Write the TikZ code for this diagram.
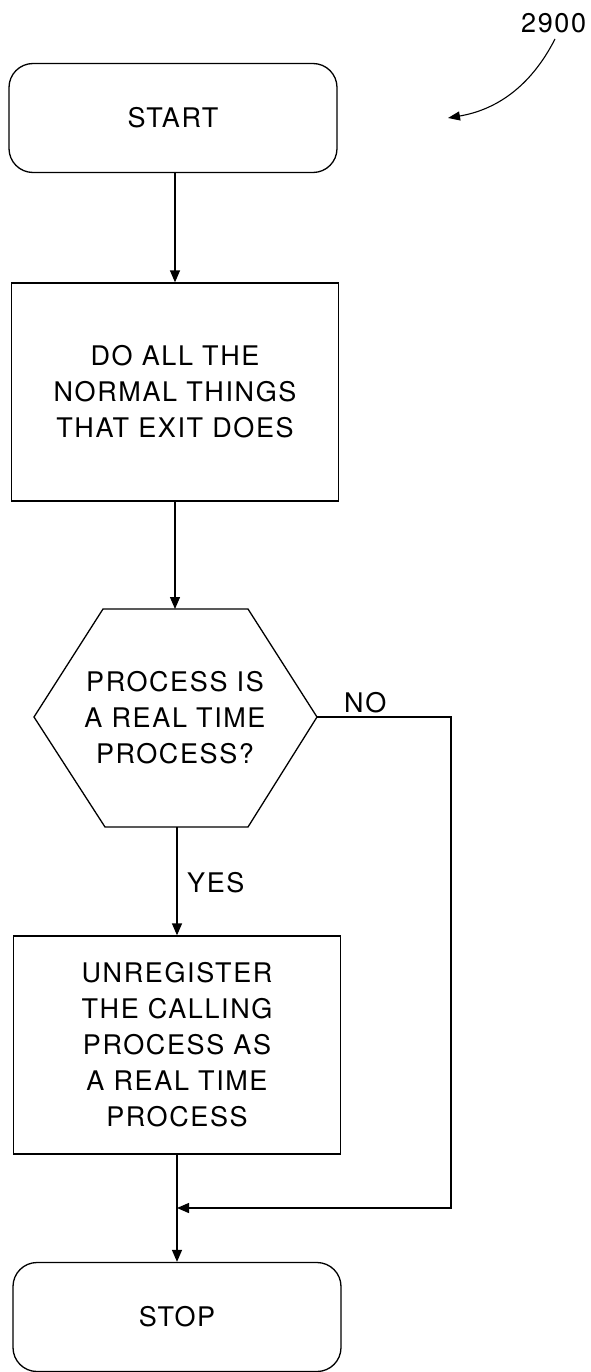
\documentclass[tikz,border=0pt]{standalone}
\usepackage{fontspec}
\setmainfont{TeX Gyre Heros}[LetterSpace=6]
\usetikzlibrary{arrows.meta}
\begin{document}
\begin{tikzpicture}[x=1pt,y=-1pt,
  every node/.style={font=\fontsize{27}{36}\selectfont, align=center, inner sep=0pt},
  term/.style={draw, line width=1.3pt, rounded corners=24pt, minimum width=328pt, minimum height=109pt},
  proc/.style={draw, line width=1.3pt, minimum width=327pt, minimum height=218pt},
  conn/.style={line width=1.3pt, -{Triangle[length=12pt,width=10pt]}},
  lbl/.style={anchor=base west}]
\useasboundingbox (0,0) rectangle (591,1372);
% nodes
\node[term] (start) at (173,118) {START};
\node[proc] (do) at (175,392) {DO ALL THE\\NORMAL THINGS\\THAT EXIT DOES};
\draw[line width=1.3pt] (103,609) -- (248,609) -- (317,717) -- (248,827) -- (105,827) -- (34,717) -- cycle;
\node (dec) at (175,718) {PROCESS IS\\A REAL TIME\\PROCESS?};
\coordinate (dectop) at (175,609);
\coordinate (decbot) at (177,827);
\coordinate (decright) at (317,717);
\node[proc] (unreg) at (177,1045) {UNREGISTER\\THE CALLING\\PROCESS AS\\A REAL TIME\\PROCESS};
\node[term] (stop) at (177,1317) {STOP};
\coordinate (nocorner) at (451,717);
\coordinate (nobottom) at (451,1208);
\coordinate (join) at (177,1208);
% labels
\node[lbl] (no) at (344,712) {NO};
\node[lbl] (yes) at (187,892) {YES};
\node[lbl] (ref) at (521,33) {2900};
\coordinate (refarrow) at (448,118);
% connectors
\draw[conn] (start.south -| do.north) -- (do.north);
\draw[conn] (do.south) -- (dectop);
\draw[conn] (decbot) -- (unreg.north);
\draw[conn] (unreg.south) -- (stop.north);
\draw[conn] (decright) -- (nocorner) -- (nobottom) -- (join);
\draw[line width=1.1pt, -{Triangle[length=12pt,width=9pt]}] (555,39) .. controls (530,88) and (495,110) .. (refarrow);
\end{tikzpicture}
\end{document}
